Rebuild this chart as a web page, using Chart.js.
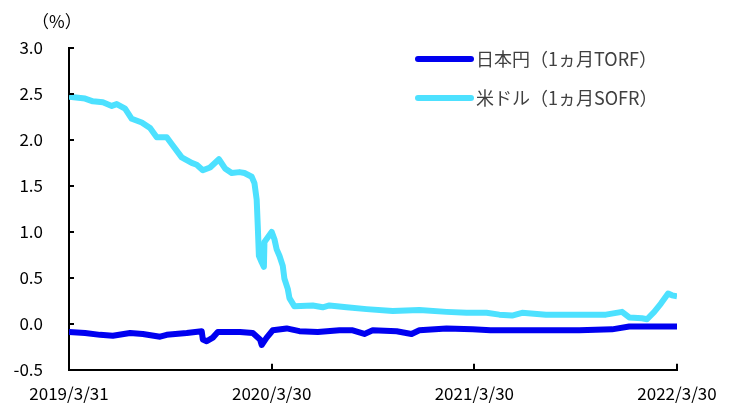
<!DOCTYPE html>
<html>
<head>
<meta charset="utf-8">
<script src="https://cdn.jsdelivr.net/npm/chart.js@4.4.0/dist/chart.umd.min.js"></script>
<style>
  html, body { margin: 0; padding: 0; background: #fff; }
  #wrap { width: 738px; height: 406px; position: relative; }
</style>
</head>
<body>
<div id="wrap"><canvas id="rateChart"></canvas></div>
<script>
// days counted from 2019/3/31
const tickDays = [0, 365, 730, 1095];
const tickLabels = ['2019/3/31', '2020/3/30', '2021/3/30', '2022/3/30'];
const seriesNames = ['日本円（1ヵ月TORF）', '米ドル（1ヵ月SOFR）'];

const torfDays = [0, 29, 56, 79, 110, 133, 164, 176, 212, 239, 241, 248, 259, 268, 308, 331, 344, 347, 356, 367,
  392, 415, 448, 487, 511, 532, 547, 590, 617, 631, 680, 727, 759, 831, 919, 978, 1009, 1095];
const torfValues = [-0.09, -0.10, -0.12, -0.13, -0.10, -0.11, -0.14, -0.12, -0.10, -0.08, -0.17, -0.19, -0.15, -0.09,
  -0.09, -0.10, -0.17, -0.23, -0.15, -0.07, -0.05, -0.08, -0.09, -0.07, -0.07, -0.11, -0.07, -0.08, -0.11, -0.07,
  -0.05, -0.06, -0.07, -0.07, -0.07, -0.06, -0.03, -0.03];

const sofrDays = [0, 29, 43, 61, 77, 86, 101, 113, 131, 146, 158, 176, 187, 203, 221, 230, 241, 254, 270, 281, 293,
  307, 316, 329, 334, 338, 340, 342, 347, 351, 352, 365, 370, 374, 379, 385, 388, 394, 397, 406, 439, 457, 469, 500,
  536, 583, 631, 680, 716, 752, 775, 798, 816, 859, 919, 967, 996, 1009, 1032, 1041, 1054, 1066, 1079, 1086, 1095];
const sofrValues = [2.47, 2.45, 2.42, 2.41, 2.37, 2.39, 2.34, 2.23, 2.19, 2.13, 2.03, 2.03, 1.94, 1.81, 1.75, 1.73,
  1.67, 1.70, 1.79, 1.69, 1.64, 1.65, 1.64, 1.60, 1.53, 1.35, 1.06, 0.74, 0.67, 0.62, 0.89, 1.00, 0.92, 0.81, 0.74,
  0.63, 0.49, 0.38, 0.28, 0.19, 0.20, 0.18, 0.20, 0.18, 0.16, 0.14, 0.15, 0.13, 0.12, 0.12, 0.10, 0.09, 0.12, 0.10,
  0.10, 0.10, 0.13, 0.07, 0.06, 0.05, 0.13, 0.22, 0.33, 0.31, 0.30];

const colors = ['#0000f0', '#4de1ff'];
const font = "'Noto Sans CJK JP', 'Noto Sans', sans-serif";

// inward tick marks, unit label and legend
const decorations = {
  id: 'decorations',
  afterDraw(chart) {
    const c = chart.ctx, a = chart.chartArea;
    const x = chart.scales.x, y = chart.scales.y;
    c.save();
    c.strokeStyle = '#000';
    c.lineWidth = 2;
    c.beginPath();
    y.ticks.forEach(t => {
      const py = Math.round(y.getPixelForValue(t.value));
      c.moveTo(a.left, py);
      c.lineTo(a.left + 5, py);
    });
    tickDays.slice(1).forEach(d => {
      const px = Math.round(x.getPixelForValue(d));
      c.moveTo(px, a.bottom);
      c.lineTo(px, a.bottom - 6);
    });
    c.stroke();

    c.fillStyle = '#000';
    c.font = '17px ' + font;
    c.textBaseline = 'middle';
    c.textAlign = 'left';
    c.fillText('（%）', 32, 22);

    c.font = '18px ' + font;
    seriesNames.forEach((name, i) => {
      const ly = 59 + i * 39;
      c.strokeStyle = colors[i];
      c.lineWidth = 6;
      c.lineCap = 'round';
      c.beginPath();
      c.moveTo(418, ly);
      c.lineTo(471, ly);
      c.stroke();
      c.fillStyle = '#404040';
      c.fillText(name, 476, ly);
    });
    c.restore();
  }
};

new Chart(document.getElementById('rateChart'), {
  type: 'line',
  data: {
    datasets: [
      { label: seriesNames[0], data: torfDays.map((d, i) => ({ x: d, y: torfValues[i] })),
        borderColor: colors[0], borderWidth: 6, borderJoinStyle: 'round', pointRadius: 0, tension: 0 },
      { label: seriesNames[1], data: sofrDays.map((d, i) => ({ x: d, y: sofrValues[i] })),
        borderColor: colors[1], borderWidth: 6, borderJoinStyle: 'round', pointRadius: 0, tension: 0 }
    ]
  },
  options: {
    responsive: true,
    maintainAspectRatio: false,
    animation: false,
    layout: { padding: { top: 48, right: 61, left: 0, bottom: 0 } },
    plugins: { legend: { display: false }, tooltip: { enabled: false } },
    scales: {
      x: {
        type: 'linear',
        min: 0,
        max: 1095,
        afterBuildTicks: axis => { axis.ticks = tickDays.map(v => ({ value: v })); },
        afterFit: axis => { axis.height = 35; },
        grid: { display: false, drawTicks: false },
        border: { display: true, color: '#000', width: 2 },
        ticks: {
          padding: 14,
          maxRotation: 0,
          autoSkip: false,
          color: '#000',
          font: { family: font, size: 17 },
          callback: v => tickLabels[tickDays.indexOf(v)]
        }
      },
      y: {
        min: -0.5,
        max: 3.0,
        afterFit: axis => { axis.width = 69; },
        grid: { display: false, drawTicks: false },
        border: { display: true, color: '#000', width: 2 },
        ticks: {
          stepSize: 0.5,
          padding: 26,
          color: '#000',
          font: { family: font, size: 17 },
          callback: v => v.toFixed(1)
        }
      }
    }
  },
  plugins: [decorations]
});
</script>
</body>
</html>
